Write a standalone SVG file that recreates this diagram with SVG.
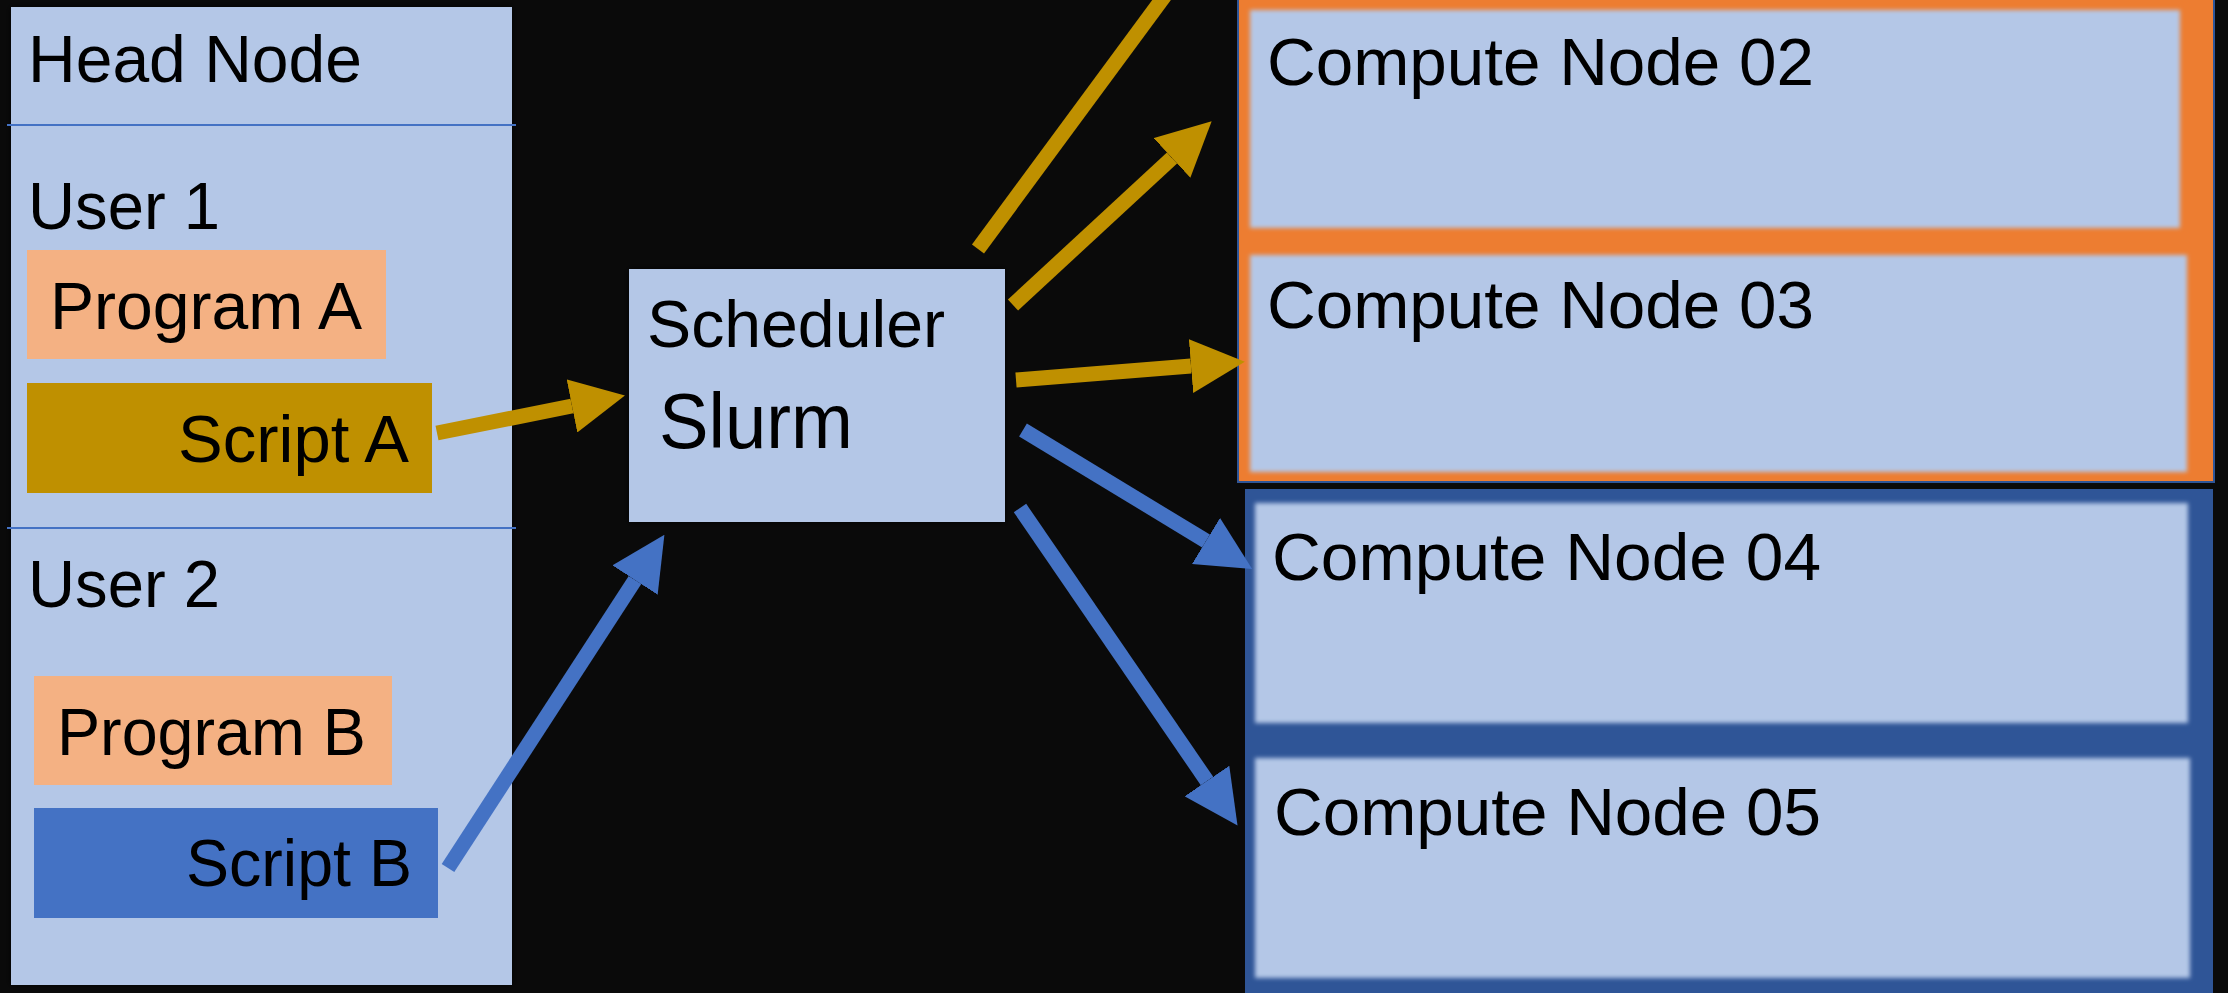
<svg xmlns="http://www.w3.org/2000/svg" width="2228" height="993" viewBox="0 0 2228 993">
<style>
.t{font-family:"Liberation Sans","Noto Sans",Arial,sans-serif;font-size:66px;fill:#000}
.lb{fill:#b4c7e7}
.gold{stroke:#bf9000;stroke-width:15;fill:none}
.blue{stroke:#4472c4;stroke-width:15;fill:none}
</style>
<defs>
<filter id="soft" x="-5%" y="-5%" width="110%" height="110%"><feGaussianBlur stdDeviation="2"/></filter>
<filter id="shadow" x="-5%" y="-5%" width="110%" height="110%"><feDropShadow dx="0" dy="0" stdDeviation="3" flood-color="#000" flood-opacity="0.8"/></filter>
<marker id="ahG" viewBox="0 0 10 10" refX="0" refY="5" markerWidth="3.6" markerHeight="3.6" orient="auto"><path d="M0,0 L10,5 L0,10 z" fill="#bf9000"/></marker>
<marker id="ahB" viewBox="0 0 10 10" refX="0" refY="5" markerWidth="3.6" markerHeight="3.6" orient="auto"><path d="M0,0 L10,5 L0,10 z" fill="#4472c4"/></marker>
</defs>
<rect x="0" y="0" width="2228" height="993" fill="#0a0a0a"/>
<g id="head-node">
<rect x="11" y="7" width="501" height="978" class="lb" filter="url(#shadow)"/>
<line x1="7" y1="125" x2="516" y2="125" stroke="#4472c4" stroke-width="2"/>
<line x1="7" y1="528" x2="516" y2="528" stroke="#4472c4" stroke-width="2"/>
<text class="t" x="28" y="82" textLength="334" lengthAdjust="spacingAndGlyphs">Head Node</text>
<text class="t" x="28" y="229" textLength="192" lengthAdjust="spacingAndGlyphs">User 1</text>
<text class="t" x="28" y="607" textLength="192" lengthAdjust="spacingAndGlyphs">User 2</text>
</g>
<g id="program-a">
<rect x="27" y="250" width="359" height="109" fill="#f4b183"/>
<text class="t" x="50" y="329" textLength="312" lengthAdjust="spacingAndGlyphs">Program A</text>
</g>
<g id="script-a">
<rect x="27" y="383" width="405" height="110" fill="#bf9000"/>
<text class="t" x="178" y="462" textLength="231" lengthAdjust="spacingAndGlyphs">Script A</text>
</g>
<g id="program-b">
<rect x="34" y="676" width="358" height="109" fill="#f4b183"/>
<text class="t" x="57" y="755" textLength="309" lengthAdjust="spacingAndGlyphs">Program B</text>
</g>
<g id="script-b">
<rect x="34" y="808" width="404" height="110" fill="#4472c4"/>
<text class="t" x="186" y="886" textLength="226" lengthAdjust="spacingAndGlyphs">Script B</text>
</g>
<g id="scheduler">
<rect x="629" y="269" width="376" height="253" class="lb" filter="url(#shadow)"/>
<text class="t" x="647" y="347" textLength="298" lengthAdjust="spacingAndGlyphs">Scheduler</text>
<text class="t" x="659" y="448" style="font-size:78px" textLength="194" lengthAdjust="spacingAndGlyphs">Slurm</text>
</g>
<g id="orange-group">
<rect x="1238" y="-10" width="976" height="492" fill="#ed7d31" stroke="#2f5597" stroke-width="2"/>
</g>
<g id="compute-node-02">
<rect x="1250" y="10" width="930" height="218" class="lb" filter="url(#soft)"/>
<text class="t" x="1267" y="85" textLength="547" lengthAdjust="spacingAndGlyphs">Compute Node 02</text>
</g>
<g id="compute-node-03">
<rect x="1250" y="255" width="937" height="217" class="lb" filter="url(#soft)"/>
<text class="t" x="1267" y="328" textLength="547" lengthAdjust="spacingAndGlyphs">Compute Node 03</text>
</g>
<g id="blue-group">
<rect x="1245" y="489" width="968" height="520" fill="#2f5597"/>
</g>
<g id="compute-node-04">
<rect x="1255" y="503" width="933" height="220" class="lb" filter="url(#soft)"/>
<text class="t" x="1272" y="580" textLength="549" lengthAdjust="spacingAndGlyphs">Compute Node 04</text>
</g>
<g id="compute-node-05">
<rect x="1255" y="758" width="935" height="220" class="lb" filter="url(#soft)"/>
<text class="t" x="1274" y="835" textLength="547" lengthAdjust="spacingAndGlyphs">Compute Node 05</text>
</g>
<g id="connectors">
<line x1="437" y1="433" x2="572" y2="406" class="gold" marker-end="url(#ahG)"/>
<line x1="448" y1="868" x2="635" y2="580" class="blue" marker-end="url(#ahB)"/>
<line x1="978" y1="249" x2="1180" y2="-25" class="gold"/>
<line x1="1013" y1="305" x2="1172" y2="158" class="gold" marker-end="url(#ahG)"/>
<line x1="1016" y1="380" x2="1191" y2="366" class="gold" marker-end="url(#ahG)"/>
<line x1="1023" y1="430" x2="1206" y2="541" class="blue" marker-end="url(#ahB)"/>
<line x1="1020" y1="508" x2="1207" y2="781" class="blue" marker-end="url(#ahB)"/>
</g>
</svg>
